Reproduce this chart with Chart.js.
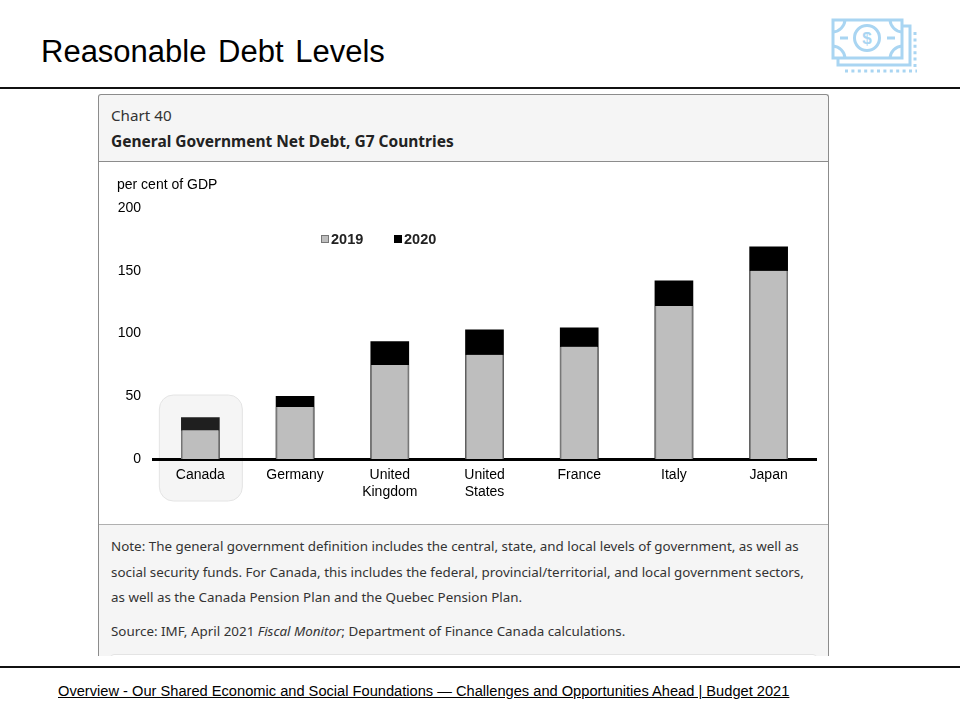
<!DOCTYPE html>
<html lang="en">
<head>
<meta charset="utf-8">
<title>Reasonable Debt Levels</title>
<script src="https://cdn.jsdelivr.net/npm/chart.js@4"></script>
<style>
  html, body { margin: 0; padding: 0; background: #fff; }
  body { width: 960px; height: 720px; position: relative; overflow: hidden; font-family: "Liberation Sans", Arial, sans-serif; color: #000; }
  .abs { position: absolute; white-space: nowrap; }
  #title { left: 41px; top: 33px; font-size: 31px; line-height: 38px; word-spacing: 3px; }
  .rule { position: absolute; left: 0; width: 960px; height: 2px; background: #111; }
  #panel { position: absolute; left: 98px; top: 94px; width: 729px; height: 561px; border: 1px solid #8c8c8c; border-bottom: 0; border-radius: 3px 3px 0 0; background: #f5f5f5; overflow: hidden; }
  #chartBox { position: absolute; left: 0; top: 66px; width: 729px; height: 362px; background: #fff; border-top: 1px solid #8c8c8c; border-bottom: 1px solid #b0b0b0; }
  #panel .t { position: absolute; left: 12px; white-space: nowrap; font-family: "Noto Sans", sans-serif; color: #333; }
  #panel .n { font-size: 13.4px; line-height: 20px; }
  #inner { position: absolute; left: 11px; top: 559px; width: 705px; height: 10px; background: #fff; border: 1px solid #e4e4e4; border-radius: 4px; }
  #unit { left: 117px; top: 176px; font-size: 14px; line-height: 16px; color: #000; }
  #legend span.s { position: absolute; width: 8px; height: 8px; top: 235px; }
  #legend span.l { position: absolute; top: 231px; font-size: 14.5px; line-height: 16px; font-weight: bold; color: #222; }
  #footer { left: 58px; top: 682px; font-size: 14.65px; line-height: 18px; text-decoration: underline; }
  #icon { position: absolute; left: 825px; top: 12px; }
</style>
</head>
<body>
<div id="title" class="abs">Reasonable Debt Levels</div>
<svg id="icon" width="100" height="66" viewBox="825 12 100 66" fill="none" stroke="#a9d5f2" stroke-width="3">
  <path d="M903 26 H910 V65 H838 V58"/>
  <rect x="833" y="20" width="69" height="38" fill="#fff"/>
  <path d="M833 32 A13 13 0 0 0 845 20 M890 20 A13 13 0 0 0 902 32 M833 46 A13 13 0 0 1 845 58 M902 46 A13 13 0 0 0 890 58"/>
  <circle cx="867" cy="38" r="12.5"/>
  <path d="M840 38 H848 M887 38 H895"/>
  <text x="867" y="44" text-anchor="middle" font-size="17" font-weight="bold" font-family="Liberation Sans" fill="#a9d5f2" stroke="none">$</text>
  <path d="M915 32 V70" stroke-width="3" stroke-dasharray="3 3.4"/>
  <path d="M845 71 H917" stroke-width="3" stroke-dasharray="3 3.4"/>
</svg>
<div class="rule" style="top:87px"></div>

<div id="panel">
  <div class="t" style="top:9px;font-size:15.2px;line-height:22px">Chart 40</div>
  <div class="t" style="top:35px;font-size:15.5px;line-height:22px;font-weight:bold;color:#222">General Government Net Debt, G7 Countries</div>
  <div id="chartBox"><canvas id="chartDebt" width="729" height="362"></canvas></div>
  <div class="t n" style="top:441px">Note: The general government definition includes the central, state, and local levels of government, as well as</div>
  <div class="t n" style="top:467px">social security funds. For Canada, this includes the federal, provincial/territorial, and local government sectors,</div>
  <div class="t n" style="top:492px">as well as the Canada Pension Plan and the Quebec Pension Plan.</div>
  <div class="t n" style="top:526px">Source: IMF, April 2021 <i>Fiscal Monitor</i>; Department of Finance Canada calculations.</div>
  <div id="inner"></div>
</div>

<div id="unit" class="abs">per cent of GDP</div>
<div id="legend"></div>

<div class="rule" style="top:666px"></div>
<div id="footer" class="abs">Overview - Our Shared Economic and Social Foundations — Challenges and Opportunities Ahead | Budget 2021</div>

<script>
// Dados
const countries = ['Canada', 'Germany', ['United', 'Kingdom'], ['United', 'States'], 'France', 'Italy', 'Japan'];
const debt2019 = [23, 41.5, 75, 83, 89.5, 122, 150];
const debt2020 = [33, 50, 93.5, 103, 104.5, 142, 169];
const yTicks = [0, 50, 100, 150, 200];
const seriesNames = ['2019', '2020'];

const GREY = '#bebebe';
const BLACK = '#000000';

// Legend lives outside the canvas, same as the original page graphic
const legend = document.getElementById('legend');
[[321, 331, GREY], [394, 404, BLACK]].forEach(function (item, i) {
    legend.innerHTML += '<span class="s" style="left:' + item[0] + 'px;background:' + item[2] + ';' +
        (i === 0 ? 'outline:1px solid #777;outline-offset:-1px' : '') + '"></span>' +
        '<span class="l" style="left:' + item[1] + 'px">' + seriesNames[i] + '</span>';
});

// Rounded highlight behind the Canada bar
const canadaHighlight = {
    id: 'canadaHighlight',
    beforeDraw(chart) {
        const { ctx, scales } = chart;
        const cx = scales.x.getPixelForValue(0);
        const y0 = scales.y.getPixelForValue(0);
        ctx.save();
        ctx.beginPath();
        ctx.roundRect(cx - 41, y0 - 64, 83, 106, 14);
        ctx.fillStyle = '#f5f5f5';
        ctx.fill();
        ctx.strokeStyle = '#e4e4e4';
        ctx.lineWidth = 1;
        ctx.stroke();
        ctx.restore();
    }
};

new Chart(document.getElementById('chartDebt'), {
    type: 'bar',
    data: {
        labels: countries,
        datasets: [
            {
                label: seriesNames[0],
                data: debt2019,
                grouped: false,
                order: 1,
                barThickness: 38,
                backgroundColor: GREY,
                borderColor: '#777777',
                borderWidth: { left: 1.5, right: 1.5, top: 0, bottom: 0 },
                borderSkipped: false
            },
            {
                label: seriesNames[1],
                data: debt2020,
                grouped: false,
                order: 2,
                barThickness: 38,
                backgroundColor: (c) => c.dataIndex === 0 ? '#1f1f1f' : BLACK
            }
        ]
    },
    plugins: [canadaHighlight],
    options: {
        responsive: false,
        animation: false,
        events: [],
        layout: { padding: { left: 0, right: 12, top: 46, bottom: 0 } },
        scales: {
            x: {
                grid: { display: false, drawTicks: false },
                border: { display: true, color: '#000', width: 3 },
                ticks: { color: '#000', padding: 8, maxRotation: 0, autoSkip: false, font: { family: 'Liberation Sans', size: 14 } },
                afterFit(scale) { scale.height = 65; }
            },
            y: {
                min: 0,
                max: 200,
                afterBuildTicks(scale) { scale.ticks = yTicks.map((v) => ({ value: v })); },
                grid: { display: false, drawTicks: false },
                border: { display: false },
                ticks: { color: '#000', padding: 12, font: { family: 'Liberation Sans', size: 14 } },
                afterFit(scale) { scale.width = 54; }
            }
        },
        plugins: {
            legend: { display: false },
            tooltip: { enabled: false }
        }
    }
});
</script>
</body>
</html>
